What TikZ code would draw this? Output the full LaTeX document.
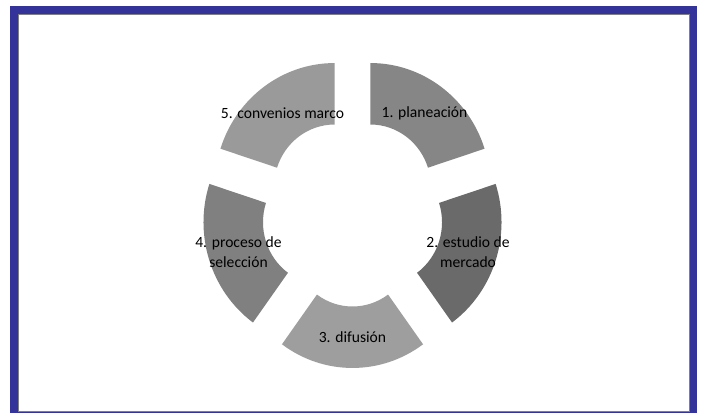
\documentclass[tikz,border=0pt]{standalone}
\usepackage{fontspec}
\setmainfont{Carlito}
\usepackage{tikz}
\usepackage{xcolor}
\usetikzlibrary{positioning}
\definecolor{frameBlue}{RGB}{51,51,153}
\definecolor{frameGray}{RGB}{128,128,128}
\definecolor{segOneCol}{RGB}{134,134,134}
\definecolor{segTwoCol}{RGB}{106,106,106}
\definecolor{segThreeCol}{RGB}{158,158,158}
\definecolor{segFourCol}{RGB}{128,128,128}
\definecolor{segFiveCol}{RGB}{154,154,154}
\tikzset{
  segLabel/.style={text=black, align=center, font=\fontsize{11.7}{15}\selectfont, inner sep=0pt}
}

\begin{document}
\begin{tikzpicture}[x=0.75pt, y=0.75pt]
%--------------------------------------------------
\useasboundingbox (0,0) rectangle (702,413);

% blue frame round the page
\fill [frameBlue](10,0) rectangle (697,407);
\filldraw [color=frameGray, fill=white, line width=0.75pt](18.5,1) rectangle (689.5,398.5);


% the five segments of the ring
\begin{scope}[shift={(352.5,200.5)}, yscale=1.033]
\fill [segOneCol, shift={(54:30.5)}](90:120) arc[start angle=90, end angle=18, radius=120] -- (18:60.5) arc[start angle=18, end angle=90, radius=60.5] -- cycle;
\fill [segTwoCol, shift={(-18:30.5)}](18:120) arc[start angle=18, end angle=-54, radius=120] -- (-54:60.5) arc[start angle=-54, end angle=18, radius=60.5] -- cycle;
\fill [segThreeCol, shift={(-90:30.5)}](-54:120) arc[start angle=-54, end angle=-126, radius=120] -- (-126:60.5) arc[start angle=-126, end angle=-54, radius=60.5] -- cycle;
\fill [segFourCol, shift={(-162:30.5)}](-126:120) arc[start angle=-126, end angle=-198, radius=120] -- (-198:60.5) arc[start angle=-198, end angle=-126, radius=60.5] -- cycle;
\fill [segFiveCol, shift={(126:30.5)}](162:120) arc[start angle=162, end angle=90, radius=120] -- (90:60.5) arc[start angle=90, end angle=162, radius=60.5] -- cycle;
\end{scope}


% labels of the segments
\node [segLabel] (planeacion) at (424.5,300) {1. planeación};
\node [segLabel] (estudio) at (468,161) {2. estudio de\\mercado};
\node [segLabel] (difusion) at (352.5,76) {3. difusión};
\node [segLabel] (seleccion) at (238.5,161) {4. proceso de\\selección};
\node [segLabel] (convenios) at (282.5,300) {5. convenios marco};

%--------------------------------------------------
\end{tikzpicture}
\end{document}
